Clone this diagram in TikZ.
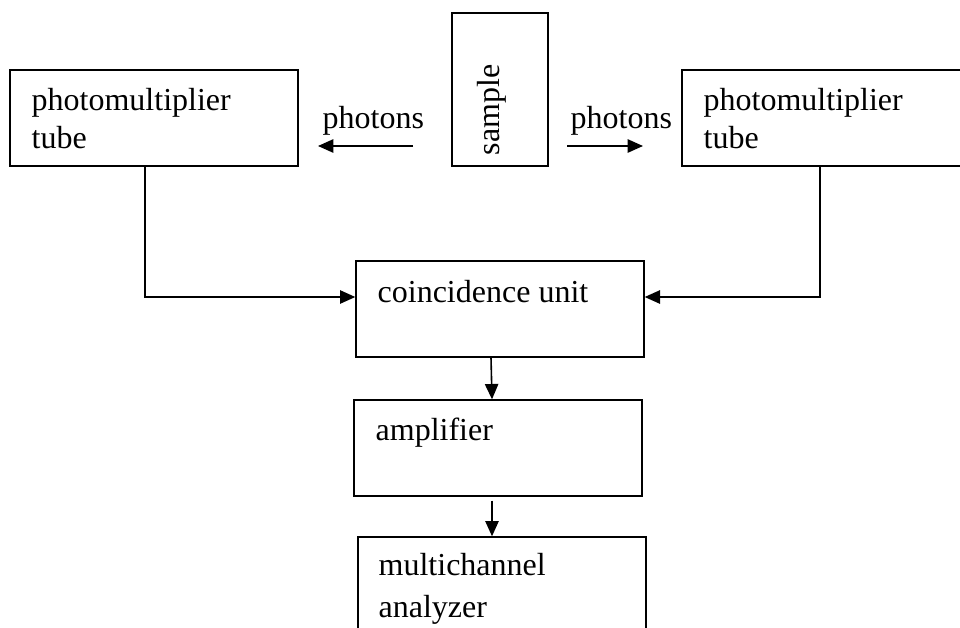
\documentclass[tikz,border=0pt]{standalone}
\usepackage{fontspec}
\setmainfont{Liberation Serif}
\usetikzlibrary{arrows.meta,positioning}

\begin{document}
\begin{tikzpicture}[x=0.75pt,y=-0.75pt,line width=1pt,
		box/.style={draw,inner sep=0pt,minimum width=216pt,minimum height=72pt},
		lbl/.style={inner sep=0pt,align=left,anchor=base west,font=\fontsize{24}{28.5}\selectfont},
		flow/.style={line width=1.2pt,-{Triangle[length=11.5pt,width=10pt]}}]
		\useasboundingbox (0,0) rectangle (960,628);
		\clip (0,0) rectangle (960,628);
		% boxes
		\node[box] (pmtL) at (154,118) {};
		\node[box,minimum width=72pt,minimum height=114.75pt] (smp) at (500,89.5) {};
		\node[box] (pmtR) at (826,118) {};
		\node[box] (coinc) at (500,309) {};
		\node[box] (amp) at (498,448) {};
		\node[box] (mca) at (502,585) {};
		% texts (base = last line)
		\node[lbl] (pmtLtxt) at (31,148) {photomultiplier\\tube};
		\node[lbl] (pmtRtxt) at (703,148) {photomultiplier\\tube};
		\node[lbl,anchor=center,rotate=90] (smptxt) at (492,110) {sample};
		\node[lbl] (phLtxt) at (322,128) {photons};
		\node[lbl] (phRtxt) at (570,128) {photons};
		\node[lbl] (coinctxt) at (377,302) {coincidence unit};
		\node[lbl] (amptxt) at (375,440) {amplifier};
		\node[lbl,font=\fontsize{24}{31.5}\selectfont] (mcatxt) at (378,617) {multichannel\\analyzer};
		% photons
		\coordinate (phLs) at (413,146);
		\coordinate (phLe) at (318,146);
		\coordinate (phRs) at (567,146);
		\coordinate (phRe) at (643,146);
		\draw[flow] (phLs)--(phLe);
		\draw[flow] (phRs)--(phRe);
		% signal path
		\draw[flow] ([xshift=-6.75pt]pmtL.south) |- ([yshift=9pt]coinc.west);
		\draw[flow] ([xshift=-4.5pt]pmtR.south) |- ([yshift=9pt]coinc.east);
		\draw[flow] ([xshift=-6.75pt]coinc.south)--([xshift=-4.5pt]amp.north);
		\draw[flow] ([shift={(-4.5pt,-3pt)}]amp.south)--([xshift=-7.5pt]mca.north);
	\end{tikzpicture}
\end{document}
